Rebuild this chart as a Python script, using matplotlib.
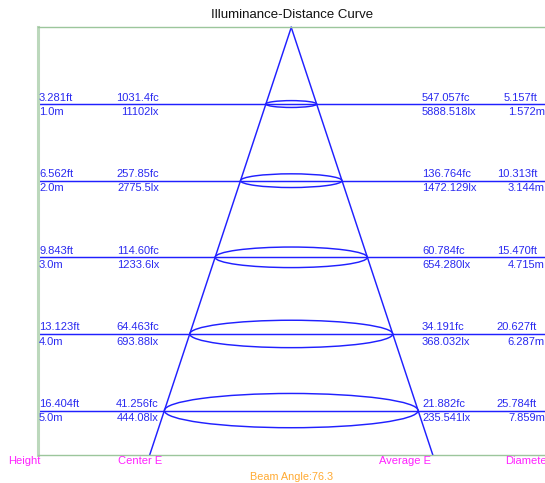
import matplotlib
matplotlib.use("Agg")
import matplotlib.pyplot as plt
from matplotlib.patches import Ellipse
from matplotlib.transforms import blended_transform_factory

# ---- data ----
distance_m = [1.0, 2.0, 3.0, 4.0, 5.0]
height_ft = ["3.281ft", "6.562ft", "9.843ft", "13.123ft", "16.404ft"]
height_m = ["1.0m", "2.0m", "3.0m", "4.0m", "5.0m"]
center_fc = ["1031.4fc", "257.85fc", "114.60fc", "64.463fc", "41.256fc"]
center_lx = ["11102lx", "2775.5lx", "1233.6lx", "693.88lx", "444.08lx"]
avg_fc = ["547.057fc", "136.764fc", "60.784fc", "34.191fc", "21.882fc"]
avg_lx = ["5888.518lx", "1472.129lx", "654.280lx", "368.032lx", "235.541lx"]
diam_ft = ["5.157ft", "10.313ft", "15.470ft", "20.627ft", "25.784ft"]
diam_m_lbl = ["1.572m", "3.144m", "4.715m", "6.287m", "7.859m"]
diameter_m = [1.572, 3.144, 4.715, 6.287, 7.859]
beam_angle = 76.3
column_titles = ["Height", "Center E", "Average E", "Diameter"]

plt.rcParams['font.family'] = ['Liberation Sans', 'DejaVu Sans']

W, H = 545, 483
fig = plt.figure(figsize=(W / 100, H / 100), dpi=100)
ax_left, ax_top, ax_bottom = 37.5, 27.4, 454.5
ax = fig.add_axes([ax_left / W, 1 - ax_bottom / H, (W - ax_left) / W, (ax_bottom - ax_top) / H])

xmax = diameter_m[-1]
dmax = 5.573
ax.set_xlim(-xmax, xmax)
ax.set_ylim(dmax, 0)
ax.set_xticks([])
ax.set_yticks([])

spine_col = '#9cc69c'
ax.spines['left'].set_color('#bcd8bc')
ax.spines['left'].set_linewidth(2.2)
ax.spines['top'].set_color(spine_col)
ax.spines['top'].set_linewidth(1.0)
ax.spines['bottom'].set_color(spine_col)
ax.spines['bottom'].set_linewidth(1.0)
ax.spines['right'].set_visible(False)

line_col = '#2020ff'
text_col = '#2a2af0'

# cone
slope = (diameter_m[-1] / 2) / distance_m[-1]
ax.plot([0, -slope * dmax], [0, dmax], color=line_col, lw=1.05, clip_on=False)
ax.plot([0, slope * dmax], [0, dmax], color=line_col, lw=1.05, clip_on=False)

# horizontal lines and ellipses
px_per_m_x = (W - ax_left) / (2 * xmax)
px_per_d = (ax_bottom - ax_top) / dmax
ratio = 0.135
for d, dia in zip(distance_m, diameter_m):
    ax.axhline(d, color=line_col, lw=1.05)
    h = ratio * dia * px_per_m_x / px_per_d
    ax.add_patch(Ellipse((0, d), width=dia, height=h, fill=False,
                         edgecolor=line_col, lw=1.05))

trans = blended_transform_factory(fig.transFigure, ax.transData)
fs = 8

def put(txt, xpx, d, dy, ha):
    ax.annotate(txt, xy=(xpx / W, d), xycoords=trans, xytext=(0, dy),
                textcoords='offset pixels', ha=ha, va='baseline',
                color=text_col, fontsize=fs, annotation_clip=False)

for i, d in enumerate(distance_m):
    put(height_ft[i], 39, d, 3.5, 'left')
    put(height_m[i], 39, d, -10.7, 'left')
    put(center_fc[i], 159, d, 3.5, 'right')
    put(center_lx[i], 159, d, -10.7, 'right')
    put(avg_fc[i], 422, d, 3.5, 'left')
    put(avg_lx[i], 422, d, -10.7, 'left')
    put(diam_ft[i], 537, d, 3.5, 'right')
    put(diam_m_lbl[i], 545, d, -10.7, 'right')

fig.text(292 / W, 1 - 15.5 / H, "Illuminance-Distance Curve", ha='center',
         va='center', fontsize=9.5, color='#111111')

mag = '#ff22ff'
for lbl, xpx in zip(column_titles, [8.5, 118, 379, 505]):
    fig.text(xpx / W, 1 - 464.5 / H, lbl, ha='left', va='baseline',
             fontsize=fs, color=mag)

fig.text(292 / W, 1 - 480 / H, f"Beam Angle:{beam_angle}", ha='center',
         va='baseline', fontsize=7.8, color='#ffaa33')

fig.savefig("out.png", dpi=100)
